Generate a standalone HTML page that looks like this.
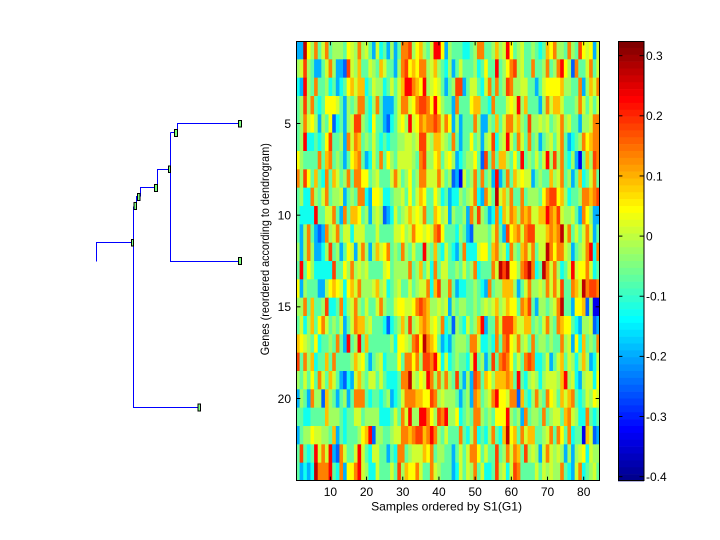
<!DOCTYPE html>
<html><head><meta charset="utf-8"><style>
html,body{margin:0;padding:0;background:#fff;}
svg{display:block;}
text{font-family:"Liberation Sans",Arial,sans-serif;font-size:12px;fill:#000;}
</style></head><body>
<svg id="s" width="720" height="540" viewBox="0 0 720 540" xmlns="http://www.w3.org/2000/svg">
<rect x="0" y="0" width="720" height="540" fill="#fff"/>
<!-- dendrogram -->
<g fill="none" stroke="#0000ff" stroke-width="1">
<path d="M96.5,261.5 V242.5 H132.5"/>
<path d="M133.5,206.5 V407.5 H199"/>
<path d="M133.5,206.5 H135"/>
<path d="M136.5,206.5 V196.5 H138.5"/>
<path d="M140.5,196.5 V187.5 H157.5"/>
<path d="M157.5,187.5 V169.5 H170.5"/>
<path d="M170.5,132.5 V261.5 H240"/>
<path d="M170.5,132.5 H176"/>
<path d="M177.5,132.5 V123.5 H240"/>
</g>
<g fill="#7fff7f" stroke="#000" stroke-width="1">
<rect x="131.5" y="239.5" width="2" height="6.5"/>
<rect x="134" y="202.5" width="2.5" height="7"/>
<rect x="137.5" y="193.5" width="2.5" height="7"/>
<rect x="154.5" y="184.5" width="3" height="7"/>
<rect x="168.5" y="166" width="2" height="6.5"/>
<rect x="174.5" y="129.5" width="3" height="7"/>
<rect x="238.5" y="120.5" width="3" height="6.5"/>
<rect x="238.5" y="257.5" width="3" height="7"/>
<rect x="198" y="404" width="2.5" height="7"/>
</g>
<!-- heatmap -->
<rect x="296" y="41" width="304" height="440" fill="#a8ff70"/>
<g id="hm"></g>
<!-- colorbar -->
<g id="cb"></g>
<g id="ticks" stroke="#000" stroke-width="1" fill="none"></g>
<rect x="296.5" y="41.5" width="303" height="439" fill="none" stroke="#000" stroke-width="1"/>
<rect x="618.5" y="41.5" width="25.5" height="439" fill="none" stroke="#000" stroke-width="1"/>
<g id="labels"></g>
<text x="446.6" y="510.5" text-anchor="middle" textLength="151" lengthAdjust="spacingAndGlyphs">Samples ordered by S1(G1)</text>
<text transform="translate(269,249.2) rotate(-90)" x="0" y="0" text-anchor="middle" textLength="212" lengthAdjust="spacingAndGlyphs">Genes (reordered according to dendrogram)</text>
</svg>
<script>
(function(){
var rows=[
"ccDYGOgyOgGGGgYyGOGygcyCgcGcgOOrGYoGgyRRYc"+"GgggCCgGOOggGoGyRYgGyggGgCgoYOGGgOGgrYyYcy",
"GyrGgccgyOGccbryGoggyGgoyggcGOrYoYOOGyoGgC"+"GcgygggGCgYggRgGYOrGyggOggGOgGORYGbOggyOgy",
"CcRGgOggGCgcCgYoyooCgyGGCgygyoRROoYRGyYygc"+"gGrrcgyygCyOgOgGrOGGyyggcgyYYYYoGGggOcGoyO",
"gGrGOgCgYYYygcGgGOOgCGOgcccgyOOyYOrrOYRYGg"+"gcOgggYooggCOgggyYyRGogggcGOyooygggGOygygy",
"gGOyYGcGgYbCgcGyrrGgCYggcbCgyYGRyYOoOOrOyO"+"YcGcgggOGccGgogyOOyoGgrGGyGygGyOGyggcGGyOO",
"gGRCCgCgYrggGcOyOogGgygCgCggGGyyGyrryGooyG"+"gOgcggYgGcGyrCGyRygOygOgGcgGygyOgcCgGOYoOO",
"YGggggOgoOgGgcgYoOgcCygOgYGgyyyyGgOrGGYogy"+"YGcCgGGYgbrgOgooGgYgRgGgygyRGrGOgCGcBgoGrO",
"OGrYgogCOgoygGOgOOYYgGygggyOygGYgGOOyyyOyg"+"GbcBygGOgOgGcRcgOgoyYyycgGggoGyOgGcgoCgyOg",
"gGCCOGgyOgGGycgGgOOCcYYyCCgGGygYgyoYggYGCg"+"cCCGgGyOCcOygDyoGOggOgGGGgYOrrYoGCggGOOoOr",
"gCCCCRggyyOgcOgooYgGcGyGbcCygGyoyYyOggoYGy"+"cGggGcOGrGgcCOCoyOoGOoOyyooROoryGGygcOYGcc",
"gcGOgcbcOGyOgyyCyyygggyggggyyYGyOYYyYyOrYg"+"ggCGgcbGGGGgyOgcrYoOyOrryyyoOoODyOgygyOycg",
"GcGOGccCGrgGcgYycyOGcGoyYOgGgOGgyggRGgogCy"+"gCcgOCCCyYYgoOGyCOGgoOyOgyyDOYOOyGcgGyORCO",
"gRgYGCCCCCrggYGOGyGyggggyYgGGGGOgGogyCOgy"+"yggGgygGOCgggOyDrDYYGOrDOCgDOyOGCgyRyYYOyC",
"YcGgggccGYoYyCYoyOGGGyoGyCgGyggygGyyOCorGG"+"OgcCCggGgCcOgGGoooGcgyOGGyGOyOyrggOoyDOrrO",
"GGOgoggGrCCgOCGyOGgyggyOGggyYYyyYOrOoGGyGy"+"cGgGGggGgGyGyoGyoYYgOorgcGGgGyODggcYYobGBB",
"gyCGogYOygGgycgyOooGygggCbCgGoGrGyoOoyYGOC"+"gbGgCygGoRcggOyrrroyyoogGgyOGgOoYYgCcGGybc",
"oYyGgYCggGgOgcRgGRgoggggggGCYYyGOrYDOoYgcC"+"cgGGGgOOyCCgCOgOrYyOGygOgGGgGggOGycYCogGgO",
"rgOGoCggogOggggGoyYgcgGyCgggYgOOYOGrrORYCy"+"CgGggCyRgGcgrgOrOYgygOrOCCgycgyogyGCGoGcCy",
"GgygYgOygoygcbCcyoGgyygygCCCgOODyGYyROGOGO"+"GgrgcGcrOgoYGoooOogRgCGyGCGyyyGoRGyCcGyyCY",
"cGgcOGGboGgcgGcgOOOgCggCgGcCgyOOOooYYrOGyG"+"GGgcgGcOogGyORYYyOObogCGOGgOYygoyoOgCgyGYy",
"ggCCggggoGGGgCggyygGGGGCCCgygOyRGGRROYGrOR"+"GGYCgGgOOGgGgYYYRGgGcOgGGgOgGyygoOyGCCOgCg",
"cgGGYyyGGgocgCgggGYoRbGGggGyyOOoOrroOROGgy"+"gggOgCGOCgCGOgCoDYogOyooggGyOgOYgOCggBoybc",
"grgCgRyOyRcbOyggyRygCyyggcgCOOgGyyyoYOgGGg"+"gcgygyOOYgyggrgGOyOogrGyGcyOyGyGcGcGyYCyGG",
"gcCcCDOOORgCOcYYORyGCCygggygrGoYYOyggOyGgg"+"gcCygyGOgyCCgrGyCyrOggggygyGyGGOgCcyOCgGyg"
];
var cm={B:"#0000ef",b:"#0060ff",c:"#00b0ff",C:"#10ffef",g:"#60ffa0",G:"#a0ff60",y:"#d0ff30",Y:"#ffff00",o:"#ffbf00",O:"#ff8000",r:"#ff4000",R:"#ff0000",D:"#bf0000"};
var NS="http://www.w3.org/2000/svg";
var x0=296,y0=41,W=304,H=440,nc=84,nr=24,cw=W/nc,rh=H/nr;
var h="";
for(var r=0;r<nr;r++){var s=rows[r]||"";for(var c=0;c<nc;c++){var ch=s.charAt(c)||"g";var col=cm[ch]||"#60ffa0";
var xa=x0+c*cw,ya=y0+r*rh;var w=(c==nc-1)?cw:cw+0.35;var hh=(r==nr-1)?rh:rh+0.35;
h+='<rect x="'+xa.toFixed(2)+'" y="'+ya.toFixed(2)+'" width="'+w.toFixed(2)+'" height="'+hh.toFixed(2)+'" fill="'+col+'"/>';}}
document.getElementById("hm").innerHTML=h;
function jet(k){var R,G,B;
 R=k<=24?0:(k<=40?(k-24)/16:(k<=56?1:(72-k)/16));
 G=k<=8?0:(k<=24?(k-8)/16:(k<=40?1:(k<=55?(56-k)/16:0)));
 B=k<=8?(k+8)/16:(k<=24?1:(k<=39?(40-k)/16:0));
 return "rgb("+Math.round(R*255)+","+Math.round(G*255)+","+Math.round(B*255)+")";}
var cb="",bh=440/64;
for(var i=0;i<64;i++){var k=64-i;cb+='<rect x="618" y="'+(41+i*bh).toFixed(2)+'" width="26" height="'+(bh+0.3).toFixed(2)+'" fill="'+jet(k)+'"/>';}
document.getElementById("cb").innerHTML=cb;
var t="",L="";
for(var n=10;n<=80;n+=10){var xx=x0+(n-0.5)*cw;
 t+='<line x1="'+xx.toFixed(2)+'" y1="481" x2="'+xx.toFixed(2)+'" y2="476.6"/>';
 t+='<line x1="'+xx.toFixed(2)+'" y1="41" x2="'+xx.toFixed(2)+'" y2="45.4"/>';
 L+='<text x="'+xx.toFixed(2)+'" y="496" text-anchor="middle">'+n+'</text>';}
for(var m=5;m<=20;m+=5){var yy=y0+(m-0.5)*rh;
 t+='<line x1="296" y1="'+yy.toFixed(2)+'" x2="300.4" y2="'+yy.toFixed(2)+'"/>';
 t+='<line x1="600" y1="'+yy.toFixed(2)+'" x2="595.6" y2="'+yy.toFixed(2)+'"/>';
 L+='<text x="291" y="'+(yy+4.3).toFixed(2)+'" text-anchor="end">'+m+'</text>';}
var vals=[0.3,0.2,0.1,0,-0.1,-0.2,-0.3,-0.4],labs=["0.3","0.2","0.1","0","-0.1","-0.2","-0.3","-0.4"];
for(var j=0;j<vals.length;j++){var yv=236.1-601.4*vals[j];
 t+='<line x1="618" y1="'+yv.toFixed(2)+'" x2="622.4" y2="'+yv.toFixed(2)+'"/>';
 t+='<line x1="644" y1="'+yv.toFixed(2)+'" x2="639.6" y2="'+yv.toFixed(2)+'"/>';
 L+='<text x="646" y="'+(yv+4.3).toFixed(2)+'">'+labs[j]+'</text>';}
document.getElementById("ticks").innerHTML=t;
document.getElementById("labels").innerHTML=L;
})();
</script>
</body></html>
